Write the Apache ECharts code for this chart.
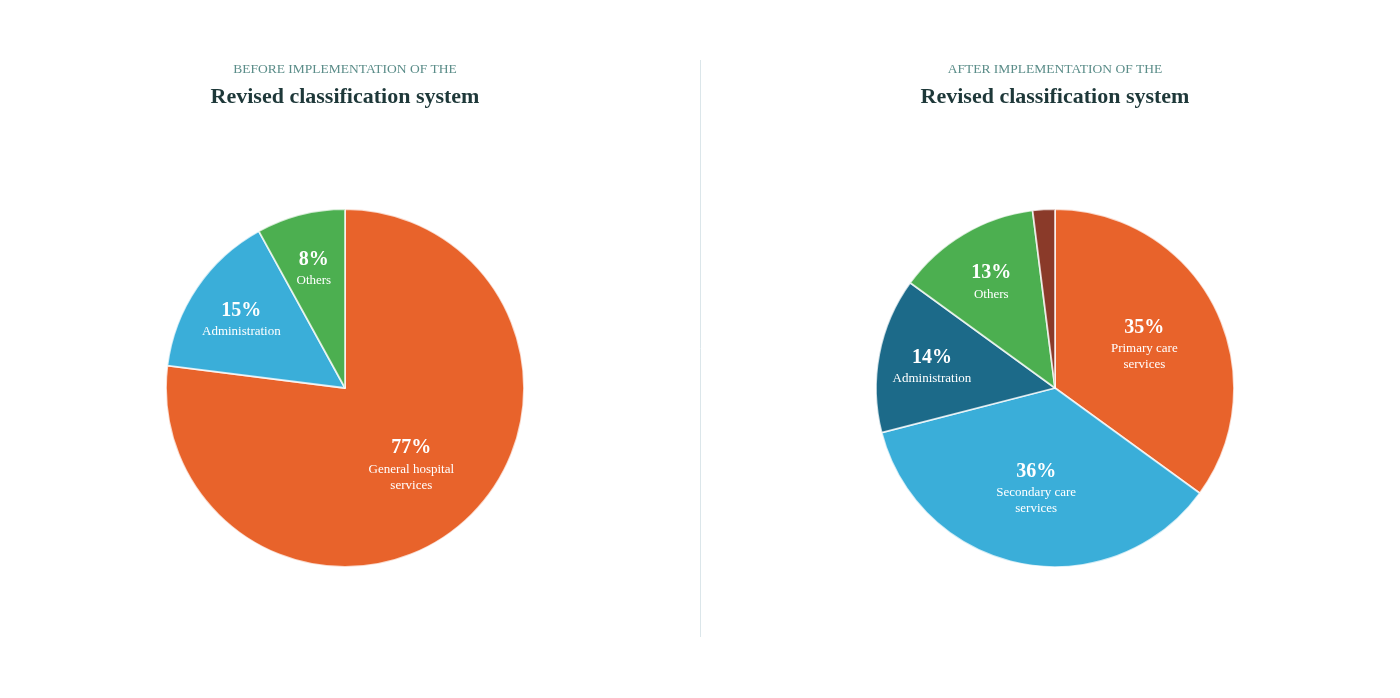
<!DOCTYPE html>
<html>
<head>
<meta charset="utf-8">
<script src="https://cdn.jsdelivr.net/npm/echarts@6/dist/echarts.min.js"></script>
<style>
  html, body { margin: 0; padding: 0; background: #fff; }
  #chart { width: 1400px; height: 698px; }
</style>
</head>
<body>
<div id="chart"></div>
<script>
// 数据
const beforeNames = ['General hospital\nservices', 'Administration', 'Others'];
const beforeValues = [77, 15, 8];
const beforeColors = ['#e8632b', '#3aaed9', '#4caf50'];

const afterNames = ['Primary care\nservices', 'Secondary care\nservices', 'Administration', 'Others', ''];
const afterValues = [35, 36, 14, 13, 2];
const afterColors = ['#e8632b', '#3aaed9', '#1c6a89', '#4caf50', '#8a3a29'];

const subTitles = ['BEFORE IMPLEMENTATION OF THE', 'AFTER IMPLEMENTATION OF THE'];
const mainTitle = 'Revised classification system';

(function() {
    let chartDom = document.getElementById('chart');
    let myChart = echarts.init(chartDom);
    const R = 179;
    const centers = [[345, 388], [1055, 388]];
    const allValues = [beforeValues, afterValues];

    // 标签放在扇区中线上，小扇区更靠外
    function labelPos(params) {
        let vals = allValues[params.seriesIndex];
        let c = centers[params.seriesIndex];
        let total = vals.reduce((a, b) => a + b, 0);
        let start = 0;
        for (let i = 0; i < params.dataIndex; i++) start += vals[i];
        let v = vals[params.dataIndex];
        let mid = (start + v / 2) / total * Math.PI * 2;
        let r = v > 30 ? R * 0.56 : R * 0.70;
        return {
            x: c[0] + r * Math.sin(mid),
            y: c[1] - r * Math.cos(mid) + 1,
            align: 'center',
            verticalAlign: 'middle'
        };
    }

    function makeData(names, values, colors) {
        return values.map((v, i) => ({
            name: names[i],
            value: v,
            itemStyle: { color: colors[i] },
            label: { show: names[i] !== '' }
        }));
    }

    const labelStyle = {
        position: 'inside',
        formatter: '{p|{c}%}\n{n|{b}}',
        color: '#fff',
        fontFamily: 'Liberation Serif',
        rich: {
            p: { fontSize: 20, fontWeight: 'bold', color: '#fff', fontFamily: 'Liberation Serif', lineHeight: 26 },
            n: { fontSize: 13, color: '#fff', fontFamily: 'Liberation Serif', lineHeight: 16 }
        }
    };

    let option = {
        animation: false,
        title: [0, 1].map(i => ({
            text: subTitles[i],
            subtext: mainTitle,
            left: centers[i][0] - 5,
            top: 57,
            textAlign: 'center',
            itemGap: 10,
            textStyle: {
                fontFamily: 'Liberation Serif',
                fontSize: 13.5,
                fontWeight: 'normal',
                color: '#5b8d89'
            },
            subtextStyle: {
                fontFamily: 'Liberation Serif',
                fontSize: 22,
                fontWeight: 'bold',
                color: '#1e3839'
            }
        })),
        graphic: [{
            type: 'line',
            shape: { x1: 700.5, y1: 60, x2: 700.5, y2: 637 },
            style: { stroke: '#dbe6ea', lineWidth: 1 }
        }],
        series: [{
                type: 'pie',
                center: centers[0],
                radius: R,
                startAngle: 90,
                clockwise: true,
                itemStyle: { borderColor: 'rgba(255,255,255,0.75)', borderWidth: 1.8 },
                label: labelStyle,
                labelLine: { show: false },
                labelLayout: labelPos,
                emphasis: { disabled: true },
                data: makeData(beforeNames, beforeValues, beforeColors)
            },
            {
                type: 'pie',
                center: centers[1],
                radius: R,
                startAngle: 90,
                clockwise: true,
                itemStyle: { borderColor: 'rgba(255,255,255,0.75)', borderWidth: 1.8 },
                label: labelStyle,
                labelLine: { show: false },
                labelLayout: labelPos,
                emphasis: { disabled: true },
                data: makeData(afterNames, afterValues, afterColors)
            }
        ]
    };
    myChart.setOption(option);
    window.addEventListener('resize', function() {
        myChart.resize();
    });
})();
</script>
</body>
</html>
